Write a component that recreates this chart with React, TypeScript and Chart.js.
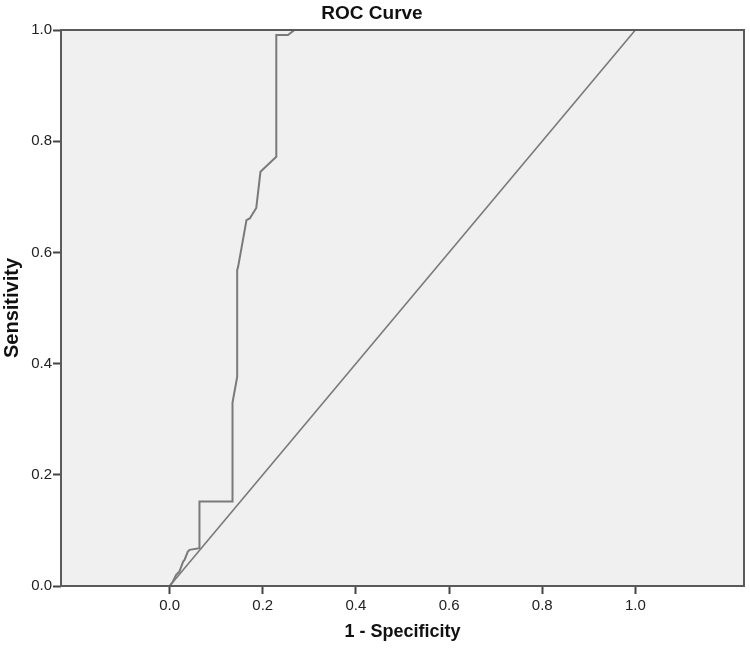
import React, { useEffect, useRef } from "react";
import { Chart, registerables } from "chart.js";

Chart.register(...registerables);

const rocX = [0, 0.007, 0.014, 0.021, 0.029, 0.032, 0.039, 0.043, 0.064, 0.064, 0.135, 0.135, 0.145, 0.145, 0.147, 0.165, 0.172, 0.186, 0.195, 0.225, 0.229, 0.229, 0.254, 0.268, 1.0];
const rocY = [0, 0.008, 0.02, 0.026, 0.044, 0.047, 0.062, 0.065, 0.068, 0.152, 0.152, 0.33, 0.376, 0.568, 0.574, 0.658, 0.661, 0.68, 0.745, 0.769, 0.772, 0.991, 0.991, 1.0, 1.0];
const refX = [0, 1];
const refY = [0, 1];
const xTicks = [0, 0.2, 0.4, 0.6, 0.8, 1.0];
const yTicks = [0, 0.2, 0.4, 0.6, 0.8, 1.0];

const FONT = "'Liberation Sans', Arial, sans-serif";

const bgPlugin = {
  id: "plotBg",
  beforeDraw(chart: any) {
    const { ctx, chartArea: a } = chart;
    ctx.save();
    ctx.fillStyle = "#f0f0f0";
    ctx.fillRect(a.left, a.top, a.right - a.left, a.bottom - a.top);
    ctx.restore();
  },
  afterDraw(chart: any) {
    const { ctx, chartArea: a } = chart;
    ctx.save();
    ctx.strokeStyle = "#5a5a5a";
    ctx.lineWidth = 2;
    ctx.strokeRect(a.left, a.top, a.right - a.left, a.bottom - a.top);
    ctx.restore();
  },
};

export default function App() {
  const ref = useRef<HTMLCanvasElement | null>(null);
  useEffect(() => {
    if (!ref.current) return;
    const chart = new Chart(ref.current, {
      type: "scatter",
      data: {
        datasets: [
          {
            data: rocX.map((x, i) => ({ x, y: rocY[i] })),
            showLine: true,
            borderColor: "#7a7a7a",
            borderWidth: 2,
            pointRadius: 0,
            fill: false,
          },
          {
            data: refX.map((x, i) => ({ x, y: refY[i] })),
            showLine: true,
            borderColor: "#7a7a7a",
            borderWidth: 1.6,
            pointRadius: 0,
            fill: false,
          },
        ],
      },
      options: {
        responsive: false,
        animation: false,
        layout: { padding: { left: 0, right: 6, top: 0, bottom: 0 } },
        plugins: {
          legend: { display: false },
          tooltip: { enabled: false },
          title: {
            display: true,
            text: "ROC Curve",
            color: "#111",
            font: { family: FONT, size: 19, weight: "bold" },
            padding: { top: 2, bottom: 5.2 },
          },
        },
        scales: {
          x: {
            type: "linear",
            min: -0.2333,
            max: 1.2333,
            afterBuildTicks: (s: any) => {
              s.ticks = xTicks.map((v) => ({ value: v }));
            },
            afterFit: (s: any) => {
              s.height = 70;
            },
            grid: { drawOnChartArea: false, tickLength: 8, color: "#444", tickWidth: 2 },
            border: { display: false },
            ticks: {
              color: "#222",
              font: { family: FONT, size: 15 },
              padding: 3,
              maxRotation: 0,
              callback: (v: any) => Number(v).toFixed(1),
            },
            title: {
              display: true,
              text: "1 - Specificity",
              color: "#111",
              font: { family: FONT, size: 18, weight: "bold" },
              padding: { top: 0, bottom: 13 },
            },
          },
          y: {
            type: "linear",
            min: 0,
            max: 1,
            afterBuildTicks: (s: any) => {
              s.ticks = yTicks.map((v) => ({ value: v }));
            },
            afterFit: (s: any) => {
              s.width = 61;
            },
            grid: { drawOnChartArea: false, tickLength: 8, color: "#444", tickWidth: 2 },
            border: { display: false },
            ticks: {
              color: "#222",
              font: { family: FONT, size: 15 },
              padding: 1,
              callback: (v: any) => Number(v).toFixed(1),
            },
            title: {
              display: true,
              text: "Sensitivity",
              color: "#111",
              font: { family: FONT, size: 20, weight: "bold" },
              padding: { top: 0, bottom: 0 },
            },
          },
        },
      },
      plugins: [bgPlugin],
    } as any);
    return () => chart.destroy();
  }, []);
  return (
    <div style={{ position: "absolute", left: 0, top: 0, width: 750, height: 656, background: "#fff" }}>
      <canvas ref={ref} width={750} height={656} style={{ width: 750, height: 656, display: "block" }} />
    </div>
  );
}
